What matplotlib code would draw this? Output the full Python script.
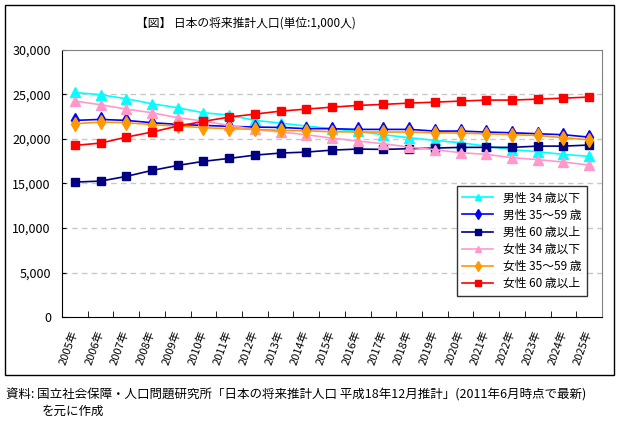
import numpy as np
import matplotlib.pyplot as plt
from matplotlib.patches import Rectangle
from matplotlib.ticker import FuncFormatter, MultipleLocator

plt.rcParams['font.family'] = ['Noto Sans CJK JP', 'DejaVu Sans']

years = [f"{y}年" for y in range(2005, 2026)]

# 単位: 1,000人
male_u34 = [25230, 24970, 24530, 23960, 23510, 22950, 22690, 22090, 21790, 21450, 21160,
            20850, 20480, 20150, 19840, 19580, 19200, 18800, 18570, 18270, 18050]
male_35_59 = [22090, 22200, 22090, 21830, 21640, 21530, 21420, 21340, 21300, 21160, 21160,
              21080, 21080, 21080, 20890, 20890, 20780, 20700, 20590, 20480, 20210]
male_60 = [15160, 15270, 15800, 16470, 17030, 17490, 17820, 18190, 18420, 18530, 18750,
           18870, 18830, 18910, 18980, 19060, 19060, 19060, 19200, 19200, 19320]
female_u34 = [24260, 23850, 23360, 22950, 22390, 22010, 21530, 21080, 20780, 20480, 20100,
              19770, 19470, 19090, 18800, 18460, 18270, 17900, 17680, 17410, 17070]
female_35_59 = [21720, 21900, 21830, 21610, 21450, 21270, 21160, 21080, 20970, 20930, 20820,
                20780, 20780, 20780, 20700, 20660, 20590, 20480, 20400, 20150, 19920]
female_60 = [19280, 19540, 20210, 20780, 21450, 21980, 22460, 22800, 23130, 23360, 23580,
             23770, 23890, 24030, 24140, 24260, 24370, 24370, 24480, 24590, 24710]

series = [
    ("男性 34 歳以下", male_u34, "#00FFFF", "^", 7),
    ("男性 35～59 歳", male_35_59, "#0000FF", "d", 7),
    ("男性 60 歳以上", male_60, "#000080", "s", 6),
    ("女性 34 歳以下", female_u34, "#FF99CC", "^", 7),
    ("女性 35～59 歳", female_35_59, "#FF9900", "d", 7),
    ("女性 60 歳以上", female_60, "#FF0000", "s", 6),
]

fig = plt.figure(figsize=(6.2, 4.24), dpi=100)
W, H = 620, 424
ax = fig.add_axes([62 / W, 1 - 317 / H, (602 - 62) / W, (317 - 50) / H])

x = np.arange(len(years))
for label, vals, color, marker, ms in series:
    ax.plot(x, vals, color=color, lw=1.2, marker=marker, markersize=ms,
            markeredgecolor=color, markerfacecolor=color, label=label)

ax.set_xlim(-0.5, len(years) - 0.5)
ax.set_ylim(0, 30000)
ax.yaxis.set_major_locator(MultipleLocator(5000))
ax.yaxis.set_major_formatter(FuncFormatter(lambda v, p: f"{int(v):,}"))
ax.tick_params(axis='y', direction='in', length=3, labelsize=9, pad=8)
for yv in range(5000, 30000, 5000):
    ax.axhline(yv, color='#C8C8C8', lw=1, ls=(0, (4, 3)), zorder=0)

ax.set_xticks(x)
ax.set_xticklabels(years, rotation=70, ha='right', va='center', rotation_mode='anchor', fontsize=8)
ax.tick_params(axis='x', length=0, pad=10)
ax.set_xticks(np.arange(-0.5, len(years)), minor=True)
ax.tick_params(axis='x', which='minor', direction='in', length=4)

for side in ('top', 'right'):
    ax.spines[side].set_color('#808080')
for side in ('left', 'bottom'):
    ax.spines[side].set_color('black')

leg = ax.legend(loc='lower right', bbox_to_anchor=((587 - 62) / 540, (317 - 296) / 267),
                fontsize=8.5, frameon=True, fancybox=False, edgecolor='black', markerscale=0.7,
                handlelength=2.6, labelspacing=0.35, borderpad=0.5, borderaxespad=0)
leg.get_frame().set_linewidth(1)

fig.text(246 / W, 1 - 23 / H, "【図】 日本の将来推計人口(単位:1,000人)", ha='center', va='center', fontsize=8.5)
fig.text(6 / W, 1 - 395 / H, "資料: 国立社会保障・人口問題研究所「日本の将来推計人口 平成18年12月推計」(2011年6月時点で最新)",
         ha='left', va='center', fontsize=9)
fig.text(42 / W, 1 - 411 / H, "を元に作成", ha='left', va='center', fontsize=9)

fig.patches.append(Rectangle((5 / W, 1 - 375 / H), (614 - 5) / W, (375 - 5) / H,
                             transform=fig.transFigure, fill=False, edgecolor='black', lw=1))

fig.savefig("out.png", dpi=100)
